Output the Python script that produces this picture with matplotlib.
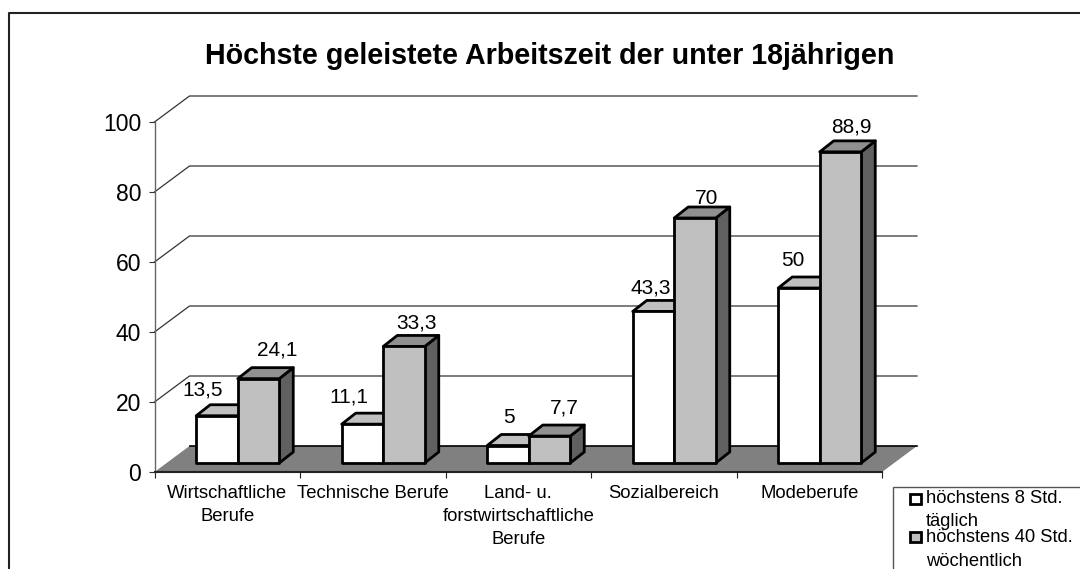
#!/usr/bin/env python3

import matplotlib
matplotlib.use("Agg")
import matplotlib.pyplot as plt
from matplotlib.patches import Polygon, Rectangle

categories = ["Wirtschaftliche\nBerufe", "Technische Berufe",
              "Land- u.\nforstwirtschaftliche\nBerufe", "Sozialbereich", "Modeberufe"]
taeglich = [13.5, 11.1, 5, 43.3, 50]
woechentlich = [24.1, 33.3, 7.7, 70, 88.9]
yticks = [0, 20, 40, 60, 80, 100]
title = "Höchste geleistete Arbeitszeit der unter 18jährigen"
legend_labels = ["höchstens 8 Std.\ntäglich", "höchstens 40 Std.\nwöchentlich"]

# label nudges in pixels from the bar's back left corner, placed by hand in the original
nudge_a = [(6, 15), (7, 16), (22, 17), (18, 12), (15, 16)]
nudge_b = [(39, 18), (33, 12), (36, 17), (32, 9), (32, 14)]

W, H = 1080, 569
X0, X1, Y0, Y100 = 154.5, 882.0, 472.0, 122.0

plt.rcParams['font.family'] = ['Liberation Sans', 'DejaVu Sans']
fig = plt.figure(figsize=(W / 100, H / 100), dpi=100)

# overlay in pixels for the outer frame and legend box
bg = fig.add_axes([0, 0, 1, 1])
bg.set_xlim(0, W)
bg.set_ylim(H, 0)
bg.axis('off')
bg.plot([8.5, 8.5, W + 5], [H + 5, 12.5, 12.5], color='#222222', lw=1.5)
bg.text(550, 56, title, ha='center', va='center', fontsize=20.6, fontweight='bold', color='black')
bg.add_patch(Rectangle((892.5, 486.5), 200, 100, fc='white', ec='#555555', lw=1.0))
bg.add_patch(Rectangle((910, 494), 11, 10, fc='white', ec='black', lw=2.0))
bg.add_patch(Rectangle((910, 532), 11, 10, fc='#c0c0c0', ec='black', lw=2.0))
bg.text(926, 498, legend_labels[0].split("\n")[0], ha='left', va='center', fontsize=13.2, color='black')
bg.text(926, 521, legend_labels[0].split("\n")[1], ha='left', va='center', fontsize=13.2, color='black')
bg.text(926, 537, legend_labels[1].split("\n")[0], ha='left', va='center', fontsize=13.2, color='black')
bg.text(926, 561, legend_labels[1].split("\n")[1], ha='left', va='center', fontsize=13.2, color='black')

ax = fig.add_axes([X0 / W, 1 - Y0 / H, (X1 - X0) / W, (Y0 - Y100) / H])
ax.patch.set_alpha(0)
ax.set_xlim(0, len(categories))
ax.set_ylim(0, 100)

# data units per pixel, the depth of the 3d look is given in pixels
ux = len(categories) / (X1 - X0)
uy = 100 / (Y0 - Y100)
depth_x, depth_y = 35 * ux, 26 * uy
bar_w = 41.5 * ux
bar_dx, bar_dy = 14 * ux, 11 * uy
base = 9 * uy
n = len(categories)

for v in yticks[1:]:
    ax.plot([0, depth_x, n + depth_x], [v, v + depth_y, v + depth_y],
            color='#333333', lw=0.9, clip_on=False, zorder=1)

ax.add_patch(Polygon([(0, 0), (depth_x, depth_y), (n + depth_x, depth_y), (n, 0)],
                     closed=True, fc='#808080', ec='none', clip_on=False, zorder=2))
ax.plot([depth_x, n + depth_x], [depth_y, depth_y], color='black', lw=1.2, clip_on=False, zorder=2)


def draw_bar(x, v, front, top, side, z):
    t = base + v
    kw = dict(closed=True, ec='black', lw=2.0, clip_on=False, zorder=z, joinstyle='round')
    ax.add_patch(Polygon([(x + bar_w, base), (x + bar_w + bar_dx, base + bar_dy),
                          (x + bar_w + bar_dx, t + bar_dy), (x + bar_w, t)], fc=side, **kw))
    ax.add_patch(Polygon([(x, t), (x + bar_dx, t + bar_dy),
                          (x + bar_w + bar_dx, t + bar_dy), (x + bar_w, t)], fc=top, **kw))
    ax.add_patch(Polygon([(x, base), (x + bar_w, base), (x + bar_w, t), (x, t)], fc=front, **kw))


for i in range(n):
    x = i + 0.5 - 31 * ux
    draw_bar(x, taeglich[i], 'white', '#c0c0c0', '#c0c0c0', 3)
    draw_bar(x + bar_w, woechentlich[i], '#c0c0c0', '#909090', '#606060', 4)
    for xx, v, nudge in ((x, taeglich[i], nudge_a[i]), (x + bar_w, woechentlich[i], nudge_b[i])):
        ax.text(xx + nudge[0] * ux, base + v + bar_dy + nudge[1] * uy, str(v).replace(".", ","),
                ha='center', va='center', fontsize=15, color='black', zorder=6)

ax.spines['top'].set_visible(False)
ax.spines['right'].set_visible(False)
ax.spines['left'].set_color('#666666')
ax.spines['left'].set_linewidth(1.0)
ax.spines['bottom'].set_color('#222222')
ax.spines['bottom'].set_linewidth(1.5)
ax.spines['bottom'].set_zorder(5)

ax.set_yticks(yticks)
ax.tick_params(axis='y', labelsize=16.5, length=4.5, width=0.8, pad=5, color='#333333')
ax.set_xticks(range(n + 1))
ax.set_xticklabels([])
ax.tick_params(axis='x', which='major', length=4.5, width=0.8, color='#222222')
ax.set_xticks([i + 0.5 for i in range(n)], minor=True)
ax.set_xticklabels(categories, minor=True, fontsize=13.3, linespacing=1.5)
ax.tick_params(axis='x', which='minor', length=0, pad=9)

fig.savefig("out.png", dpi=100)
